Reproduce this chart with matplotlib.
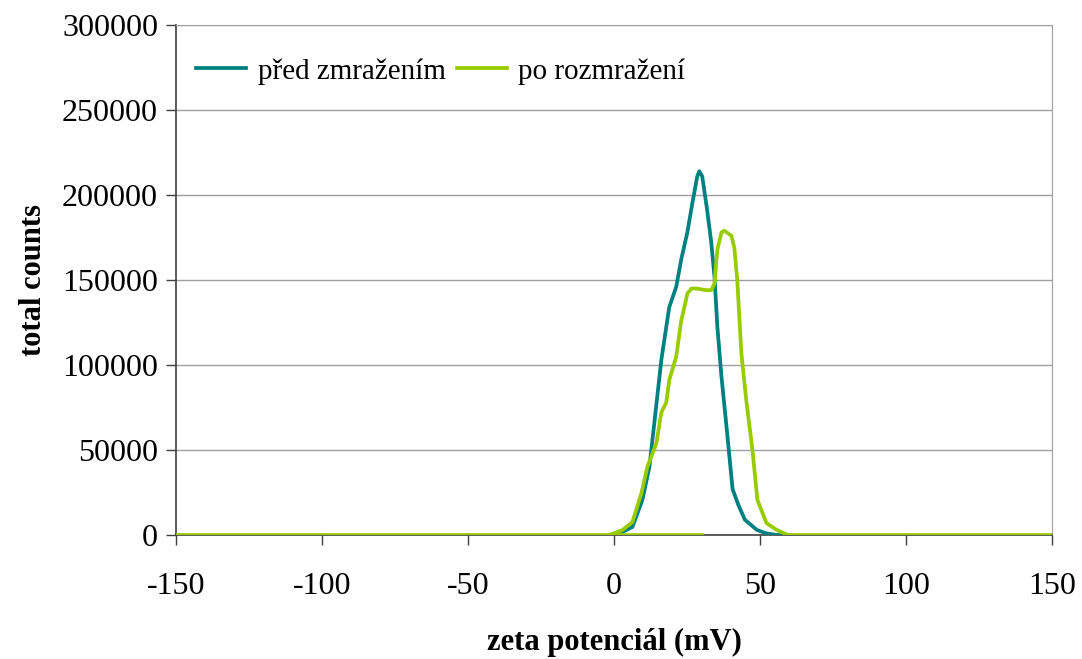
import matplotlib.pyplot as plt
from matplotlib.ticker import FixedLocator

# zeta potential (mV) and total counts
pred_x = [-0.5, 2.9, 6.3, 9.7, 12.1, 13.8, 16.2, 18.9, 21.3, 23.0, 25.1, 26.8, 28.5, 29.2,
          30.2, 31.9, 33.3, 34.4, 35.4, 36.8, 38.5, 40.6, 42.5, 44.8, 48.9, 52.0, 55.7, 58.0]
pred_y = [0, 1800, 4700, 20600, 40000, 66000, 103000, 134000, 146000, 162000, 178000, 195000,
          211000, 214000, 211000, 191000, 172000, 152000, 122000, 93000, 64000, 27000, 18000,
          9000, 3000, 1000, 0, 0]

po_x = [-150, -1.6, 2.9, 6.3, 9.4, 11.4, 14.5, 16.2, 17.9, 18.9, 21.3, 23.0, 24.1, 25.1,
        26.5, 28.2, 31.6, 33.3, 34.4, 35.4, 36.8, 37.8, 40.2, 41.2, 42.2, 43.6, 45.3, 47.4,
        49.1, 52.2, 55.7, 59.5, 150]
po_y = [0, 0, 2900, 7600, 24700, 40000, 54000, 72000, 78000, 91000, 105000, 126000, 134000,
        142000, 145000, 145000, 144000, 144000, 148000, 168000, 178000, 179000, 176000, 169000,
        150000, 107000, 79000, 50000, 20600, 7000, 3000, 0, 0]
# green zero line under the teal peak (drawn only as far as in the original)
po_base_x = [-1.6, 30]
po_base_y = [0, 0]

x_ticks = [-150, -100, -50, 0, 50, 100, 150]
y_ticks = [0, 50000, 100000, 150000, 200000, 250000, 300000]

plt.rcParams["font.family"] = ["Liberation Serif", "DejaVu Serif"]

fig = plt.figure(figsize=(10.82, 6.59), dpi=100)
ax = fig.add_axes([0.1627, 0.1882, 0.8096, 0.7738])

teal = "#008080"
green = "#99CC00"

ax.plot(pred_x, pred_y, color=teal, lw=2.7, label="před zmražením", zorder=3)
ax.plot(po_x, po_y, color=green, lw=2.7, label="po rozmražení", zorder=4)
ax.plot(po_base_x, po_base_y, color=green, lw=2.7, zorder=4)

ax.set_xlim(-150, 150)
ax.set_ylim(0, 300000)
ax.xaxis.set_major_locator(FixedLocator(x_ticks))
ax.yaxis.set_major_locator(FixedLocator(y_ticks))
ax.set_xticklabels([str(t) for t in x_ticks])
ax.set_yticklabels([str(t) for t in y_ticks])
ax.tick_params(axis="both", direction="out", length=7, width=1, color="#404040",
               labelsize=23, pad=6)
ax.tick_params(axis="x", pad=20)

ax.grid(axis="y", color="#a0a0a0", lw=1)
ax.set_axisbelow(True)
for side in ["top", "right"]:
    ax.spines[side].set_color("#a0a0a0")
for side in ["left", "bottom"]:
    ax.spines[side].set_color("#404040")
    ax.spines[side].set_linewidth(1.2)

ax.set_xlabel("zeta potenciál (mV)", fontsize=22, fontweight="bold", labelpad=19)
ax.set_ylabel("total counts", fontsize=22, fontweight="bold", labelpad=10)

ax.legend(loc="upper left", ncol=2, frameon=False, fontsize=21, handlelength=1.7,
          handletextpad=0.4, columnspacing=0.4, borderaxespad=0.3,
          bbox_to_anchor=(0.0, 0.975))

fig.savefig("out.png", dpi=100)
